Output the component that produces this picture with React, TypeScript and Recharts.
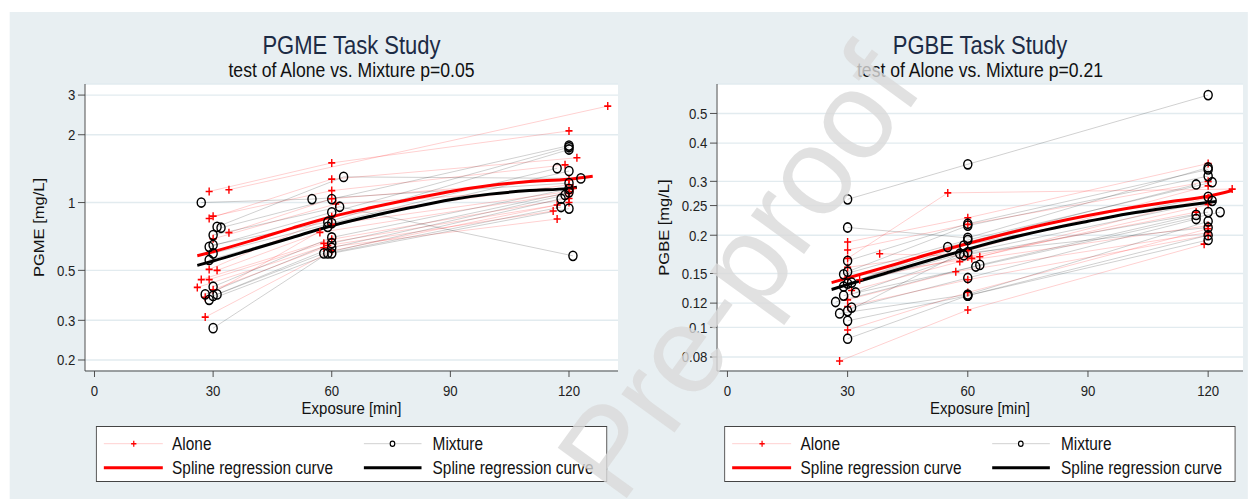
import { CartesianGrid, ComposedChart, Line, Scatter, XAxis, YAxis } from "recharts";

const FONT = "'Liberation Sans', Arial, sans-serif";
const SQUASH = 0.88;

// x ticks shared by both panels
const xTicks = [0, 30, 60, 90, 120];

// PGME panel: one entry per subject, each [minute, mg/L]
const pgmeAlone = [
  [[29, 1.12], [60, 1.5], [120, 2.08]],
  [[34, 1.14], [129.8, 2.68]],
  [[29, 0.85], [60, 1.27], [122, 1.58]],
  [[30, 0.87], [60, 1.13], [119, 1.47]],
  [[34, 0.735], [60, 1.04], [120, 1.27]],
  [[30, 0.69], [61, 0.985], [121, 1.156]],
  [[29, 0.505], [60, 0.865], [120, 1.2]],
  [[31, 0.5], [57, 0.737], [120, 1.098]],
  [[27, 0.455], [60, 0.687], [120, 1.043]],
  [[29, 0.455], [58, 0.659], [117, 0.975]],
  [[26, 0.42], [59, 0.645], [116, 0.917]],
  [[30, 0.41], [58, 0.63], [117, 0.845]],
  [[28, 0.38], [60, 0.8], [120, 1.12]],
  [[28, 0.31], [60, 0.61], [120, 1.0]],
];
const pgmeMixture = [
  [[27, 1.0], [55, 1.036], [120, 1.22]],
  [[31, 0.78], [63, 1.3], [123, 1.28]],
  [[32, 0.773], [60, 1.036], [120, 1.79]],
  [[30, 0.717], [62, 0.958], [121, 0.58]],
  [[29, 0.636], [60, 0.905], [120, 1.76]],
  [[30, 0.648], [59, 0.82], [120, 1.72]],
  [[30, 0.595], [60, 0.81], [117, 1.42]],
  [[29, 0.556], [59, 0.78], [120, 1.38]],
  [[30, 0.423], [60, 0.7], [120, 1.15]],
  [[28, 0.391], [60, 0.66], [120, 1.11]],
  [[30, 0.385], [60, 0.63], [119, 1.08]],
  [[31, 0.391], [58, 0.595], [118, 1.04]],
  [[30, 0.277], [59, 0.595], [118, 0.955]],
  [[29, 0.37], [60, 0.595], [120, 0.94]],
];
const pgmeAloneCurve = [
  [26, 0.58], [30, 0.605], [40, 0.68], [50, 0.77], [60, 0.865], [70, 0.95],
  [80, 1.035], [90, 1.12], [100, 1.19], [110, 1.24], [120, 1.27], [126, 1.31],
];
const pgmeMixtureCurve = [
  [26, 0.526], [30, 0.55], [40, 0.62], [50, 0.7], [60, 0.789], [70, 0.87],
  [80, 0.95], [90, 1.03], [100, 1.09], [110, 1.13], [120, 1.156], [122, 1.17],
];
const pgmeYTicks = [0.2, 0.3, 0.5, 1, 2, 3];

// PGBE panel
const pgbeAlone = [
  [[30, 0.19], [60, 0.228], [120, 0.343]],
  [[30, 0.179], [60, 0.217], [120, 0.3]],
  [[30, 0.168], [55, 0.275], [126, 0.283]],
  [[30, 0.157], [60, 0.178], [120, 0.29]],
  [[38, 0.174], [63, 0.17], [120, 0.265]],
  [[30, 0.146], [61, 0.168], [120, 0.252]],
  [[33, 0.143], [60, 0.17], [117, 0.238]],
  [[31, 0.132], [58, 0.164], [120, 0.215]],
  [[30, 0.123], [57, 0.152], [120, 0.204]],
  [[30, 0.117], [60, 0.143], [120, 0.2]],
  [[30, 0.098], [60, 0.13], [120, 0.21]],
  [[28, 0.0776], [60, 0.114], [119, 0.187]],
];
const pgbeMixture = [
  [[30, 0.262], [60, 0.341], [120, 0.574]],
  [[30, 0.212], [60, 0.196], [120, 0.333]],
  [[30, 0.165], [60, 0.218], [120, 0.328]],
  [[30, 0.152], [60, 0.215], [120, 0.312]],
  [[29, 0.149], [60, 0.193], [121, 0.298]],
  [[31, 0.14], [55, 0.183], [117, 0.293]],
  [[30, 0.139], [59, 0.185], [120, 0.267]],
  [[29, 0.136], [60, 0.176], [121, 0.259]],
  [[32, 0.13], [59, 0.172], [120, 0.238]],
  [[29, 0.127], [62, 0.158], [123, 0.238]],
  [[27, 0.121], [63, 0.16], [117, 0.233]],
  [[31, 0.116], [60, 0.145], [117, 0.226]],
  [[28, 0.111], [60, 0.128], [120, 0.222]],
  [[30, 0.113], [58, 0.174], [120, 0.212]],
  [[30, 0.105], [60, 0.127], [120, 0.193]],
  [[30, 0.0918], [60, 0.127], [120, 0.2]],
];
const pgbeAloneCurve = [
  [26, 0.14], [30, 0.145], [40, 0.158], [50, 0.173], [60, 0.188], [70, 0.203],
  [80, 0.218], [90, 0.232], [100, 0.245], [110, 0.257], [120, 0.268], [126, 0.28],
];
const pgbeMixtureCurve = [
  [26, 0.133], [30, 0.138], [40, 0.151], [50, 0.165], [60, 0.18], [70, 0.195],
  [80, 0.209], [90, 0.222], [100, 0.235], [110, 0.246], [120, 0.256], [122, 0.258],
];
const pgbeYTicks = [0.08, 0.1, 0.12, 0.15, 0.2, 0.25, 0.3, 0.4, 0.5];

const toRows = (pts: number[][]) => pts.map(([t, v]) => ({ t, v }));

const PlusMark = (p: any) => (
  <path
    d={`M${p.cx - 4},${p.cy}H${p.cx + 4}M${p.cx},${p.cy - 4}V${p.cy + 4}`}
    stroke="#ff0000"
    strokeWidth={1.6}
    fill="none"
  />
);
const RingMark = (p: any) => <circle cx={p.cx} cy={p.cy} r={4.6} fill="none" stroke="#000" strokeWidth={1.6} />;

const axisColor = "#444";

function Panel(props: any) {
  const { left, title, subtitle, ylabel, xDomain, yDomain, yTicks, yw, mr, alone, mixture, aloneCurve, mixCurve } = props;
  const W = 709;
  const cx = yw + (W - yw - mr) / 2;
  return (
    <div style={{ position: "absolute", left, top: 0, width: W, height: 499 }}>
      <ComposedChart width={W} height={499} margin={{ top: 84, right: mr, bottom: 98, left: 0 }}>
        <CartesianGrid vertical={false} fill="#ffffff" stroke="#e2ebef" strokeWidth={1.4} />
        <XAxis
          type="number"
          dataKey="t"
          domain={xDomain}
          ticks={xTicks}
          allowDataOverflow
          height={30}
          tickSize={6}
          tickMargin={8}
          axisLine={{ stroke: axisColor }}
          tickLine={{ stroke: axisColor }}
          tick={{ fill: "#222", fontSize: 15, fontFamily: FONT }}
        />
        <YAxis
          type="number"
          dataKey="v"
          scale="log"
          domain={yDomain}
          ticks={yTicks}
          interval={0}
          allowDataOverflow
          width={yw}
          tickSize={8}
          tickMargin={3}
          axisLine={{ stroke: axisColor }}
          tickLine={{ stroke: axisColor }}
          tick={{ fill: "#222", fontSize: 15, fontFamily: FONT }}
          tickFormatter={(v: number) => String(v)}
        />
        {alone.map((s: number[][], i: number) => (
          <Line
            key={"al" + i}
            data={toRows(s)}
            dataKey="v"
            type="linear"
            stroke="rgba(255,0,0,0.2)"
            strokeWidth={1}
            dot={false}
            activeDot={false}
            isAnimationActive={false}
          />
        ))}
        {mixture.map((s: number[][], i: number) => (
          <Line
            key={"ml" + i}
            data={toRows(s)}
            dataKey="v"
            type="linear"
            stroke="rgba(0,0,0,0.2)"
            strokeWidth={1}
            dot={false}
            activeDot={false}
            isAnimationActive={false}
          />
        ))}
        <Scatter data={toRows(alone.flat())} shape={PlusMark} isAnimationActive={false} />
        <Scatter data={toRows(mixture.flat())} shape={RingMark} isAnimationActive={false} />
        <Line data={toRows(aloneCurve)} dataKey="v" type="monotone" stroke="#ff0000" strokeWidth={3} dot={false} activeDot={false} isAnimationActive={false} />
        <Line data={toRows(mixCurve)} dataKey="v" type="monotone" stroke="#000000" strokeWidth={3} dot={false} activeDot={false} isAnimationActive={false} />
      </ComposedChart>

      <div style={{ position: "absolute", left: cx - 300, width: 600, top: 32.5, textAlign: "center", fontSize: 25, lineHeight: "25px", color: "#1c2b45", fontFamily: FONT }}>
        {title}
      </div>
      <div style={{ position: "absolute", left: cx - 300, width: 600, top: 60, textAlign: "center", fontSize: 20, lineHeight: "20px", color: "#111", fontFamily: FONT }}>
        {subtitle}
      </div>
      <div style={{ position: "absolute", left: cx - 200, width: 400, top: 400, textAlign: "center", fontSize: 17, lineHeight: "17px", color: "#111", fontFamily: FONT }}>
        Exposure [min]
      </div>
      <div
        style={{
          position: "absolute",
          left: props.ylx - 100,
          top: 227.5 - 8.5,
          width: 200,
          textAlign: "center",
          fontSize: 16.5,
          lineHeight: "17px",
          color: "#111",
          fontFamily: FONT,
          transform: "rotate(-90deg)",
        }}
      >
        {ylabel}
      </div>
      <LegendBox left={cx - 290.2} />
    </div>
  );
}

function LegendBox({ left }: { left: number }) {
  const row = (y: number) => ({ position: "absolute" as const, top: y - 9, fontSize: 17.5, lineHeight: "18px", color: "#111", fontFamily: FONT, whiteSpace: "nowrap" as const });
  return (
    <div style={{ position: "absolute", left, top: 426, width: 580.3, height: 56, background: "#fff", border: "1px solid #444", boxSizing: "border-box" }}>
      <svg width={580} height={56} style={{ position: "absolute", left: 0, top: 0 }}>
        <line x1={8} x2={75} y1={16.7} y2={16.7} stroke="rgba(255,0,0,0.2)" strokeWidth={1} />
        <path d="M39,16.7H45M42,13.7V19.7" stroke="#ff0000" strokeWidth={1.4} />
        <line x1={8} x2={75} y1={40.7} y2={40.7} stroke="#ff0000" strokeWidth={3} />
        <line x1={303.5} x2={369} y1={16.7} y2={16.7} stroke="rgba(0,0,0,0.2)" strokeWidth={1} />
        <circle cx={336} cy={16.7} r={2.6} fill="#fff" stroke="#000" strokeWidth={1.3} />
        <line x1={303.5} x2={369} y1={40.7} y2={40.7} stroke="#000" strokeWidth={3} />
      </svg>
      <div style={{ ...row(16.7), left: 85.3 }}>Alone</div>
      <div style={{ ...row(40.7), left: 85.3 }}>Spline regression curve</div>
      <div style={{ ...row(16.7), left: 381.3 }}>Mixture</div>
      <div style={{ ...row(40.7), left: 381.3 }}>Spline regression curve</div>
    </div>
  );
}

export default function App() {
  return (
    <div style={{ position: "absolute", left: 0, top: 0, width: 1248, height: 499, overflow: "hidden", background: "#fff" }}>
      <div style={{ position: "absolute", left: 0, top: 0, width: 1248 / SQUASH, height: 499, transform: `scaleX(${SQUASH})`, transformOrigin: "0 0" }}>
        <div style={{ position: "absolute", left: 11.4, top: 12, right: 0, bottom: 0, background: "#e8eff2" }} />
        <Panel
          left={0}
          title="PGME Task Study"
          subtitle="test of Alone vs. Mixture p=0.05"
          ylabel="PGME [mg/L]"
          xDomain={[-2.4, 132.4]}
          yDomain={[0.1787, 3.36]}
          yTicks={pgmeYTicks}
          yw={96.6}
          mr={6.7}
          ylx={45}
          alone={pgmeAlone}
          mixture={pgmeMixture}
          aloneCurve={pgmeAloneCurve}
          mixCurve={pgmeMixtureCurve}
        />
        <Panel
          left={709}
          title="PGBE Task Study"
          subtitle="test of Alone vs. Mixture p=0.21"
          ylabel="PGBE [mg/L]"
          xDomain={[-2.6, 128.7]}
          yDomain={[0.072, 0.624]}
          yTicks={pgbeYTicks}
          yw={105.8}
          mr={5.5}
          ylx={46}
          alone={pgbeAlone}
          mixture={pgbeMixture}
          aloneCurve={pgbeAloneCurve}
          mixCurve={pgbeMixtureCurve}
        />
      </div>
      <svg width={1248} height={499} style={{ position: "absolute", left: 0, top: 0, pointerEvents: "none" }}>
        <text
          x={738}
          y={272}
          transform="rotate(-54 738 272)"
          textAnchor="middle"
          dominantBaseline="central"
          fontSize={124}
          fontFamily={FONT}
          fill="#dadada"
          fillOpacity={0.8}
        >
          Pre-proof
        </text>
      </svg>
    </div>
  );
}
